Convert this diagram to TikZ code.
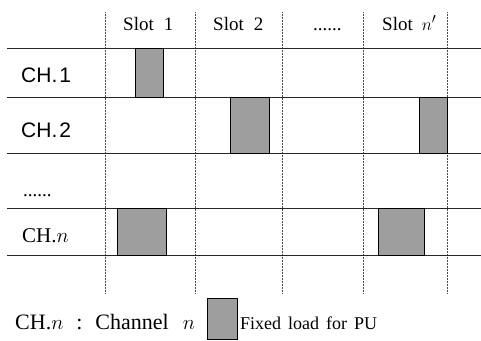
\documentclass[tikz,border=0pt]{standalone}
\usepackage{fontspec}
\setmainfont{Liberation Serif}
\setsansfont{Liberation Sans}
\usepackage{tikz}

\begin{document}
\begin{tikzpicture}[x=1pt,y=-1pt,
    grid/.style={densely dotted,draw=black!70,line width=0.5pt},
    chan/.style={draw=black!85,line width=0.8pt},
    load/.style={draw=black,fill=black!38,line width=0.8pt,inner sep=0pt},
    head/.style={anchor=base west,inner sep=0pt,font=\fontsize{19}{19}\selectfont},
    lbl/.style={anchor=base west,inner sep=0pt,font=\fontsize{21}{21}\selectfont},
  ]
    \useasboundingbox (0,0) rectangle (481,340);

    % Slots
    \node[head] (slot1) at (123,30) {Slot\hspace{10pt}1};
    \node[head] (slot2) at (213,30) {Slot\hspace{10pt}2};
    \node[head] (slotdots) at (313,30) {......};
    \node[head] (slotn) at (382,30) {Slot\hspace{9pt}$n'$};

    % Slot borders
    \foreach \x in {105,195,282,363,447}
      \draw[grid] (\x,12) -- (\x,293);

    % Channel lines
    \foreach \y in {48,97,153,208,255}
      \draw[chan] (7,\y) -- (481,\y);

    % Channels
    \node[lbl,font=\sffamily\fontsize{21}{21}\selectfont] (ch1) at (21,82) {CH.\hspace{2pt}1};
    \node[lbl,font=\sffamily\fontsize{21}{21}\selectfont] (ch2) at (21,137) {CH.\hspace{2pt}2};
    \node[head] (chdots) at (23,196) {......};
    \node[lbl] (chn) at (22,242) {CH.$n$};

    % Fixed loads
    \node[load,minimum width=28pt,minimum height=49pt] (load11) at (149,72.5) {};
    \node[load,minimum width=39pt,minimum height=56pt] (load22) at (249.5,125) {};
    \node[load,minimum width=28pt,minimum height=56pt] (load2n) at (433,125) {};
    \node[load,minimum width=49pt,minimum height=47pt] (loadn1) at (141.5,231.5) {};
    \node[load,minimum width=46pt,minimum height=47pt] (loadnn) at (401,231.5) {};

    % Legend
    \node[lbl,font=\fontsize{22}{22}\selectfont] (legch) at (15,329)
      {CH.$n$\hspace{13pt}:\hspace{13pt}Channel\hspace{14pt}$n$};
    \node[load,minimum width=30pt,minimum height=41pt] (legload) at (222,318.5) {};
    \node[anchor=base west,inner sep=0pt,font=\fontsize{18}{18}\selectfont]
      (legtext) at (240,329) {Fixed\hspace{7pt}load\hspace{7pt}for\hspace{7pt}PU};

  \end{tikzpicture}
\end{document}
